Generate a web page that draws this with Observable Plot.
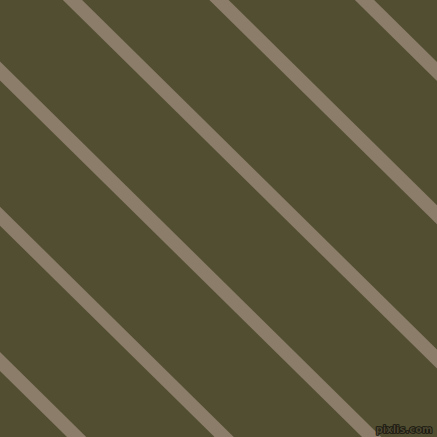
<!DOCTYPE html>
<html>
<head>
<meta charset="utf-8">
<script src="https://cdn.jsdelivr.net/npm/d3@7"></script>
<script src="https://cdn.jsdelivr.net/npm/@observablehq/plot@0.6"></script>
<style>
  html, body { margin: 0; padding: 0; background: #524E31; }
  #chart svg { display: block; }
</style>
</head>
<body>
<div id="chart"></div>
<script>
// Stripe intercepts: x position where each stripe's centre line crosses y = 0
const stripeIntercepts = [-367, -219.5, -72, 72.5, 219, 364.5];
// Stripe slope (dy per dx), lines run from upper-left to lower-right
const stripeSlope = [0.985];
const watermark = ["pixlis.com"];

const W = 437, H = 437;
const stripes = stripeIntercepts.map(c => ({
  x1: c + (-30) / stripeSlope[0], y1: -30,
  x2: c + (H + 30) / stripeSlope[0], y2: H + 30
}));

const chart = Plot.plot({
  width: W,
  height: H,
  margin: 0,
  x: {domain: [0, W], range: [0, W], axis: null},
  y: {domain: [0, H], range: [0, H], axis: null},
  style: {background: "#524E31"},
  marks: [
    Plot.link(stripes, {
      x1: "x1", y1: "y1", x2: "x2", y2: "y2",
      stroke: "#8C7D6B", strokeWidth: 13.5, strokeLinecap: "butt", clip: true
    }),
    Plot.text(watermark, {
      x: [W - 5], y: [H - 8], text: d => d,
      textAnchor: "end", fontSize: 10, fontWeight: "bold",
      fontFamily: "DejaVu Sans", fill: "#4A4630", stroke: "#15140c", strokeWidth: 1.6,
      paintOrder: "stroke"
    })
  ]
});
document.getElementById("chart").append(chart);
</script>
</body>
</html>
